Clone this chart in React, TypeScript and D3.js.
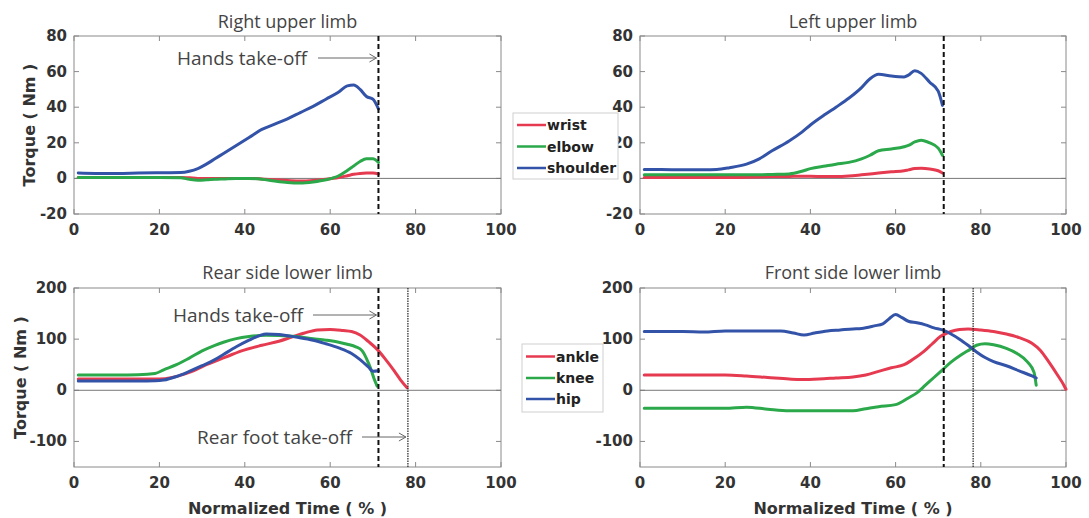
import React from "react";
import * as d3 from "d3";

// ---------- DATA ----------
const xTicks = [0, 20, 40, 60, 80, 100];
const upperYTicks = [-20, 0, 20, 40, 60, 80];
const lowerYTicks = [-100, 0, 100, 200];

const handsTakeOff = 71.3;
const rearFootTakeOff = 78.2;

// Right upper limb
const rulX = [1, 5, 10, 15, 20, 25, 27, 29, 31, 33, 35, 38, 41, 44, 47, 50, 53, 56, 59, 62, 64, 65.5, 67, 68.5, 70, 71.3];
const rulWrist = [0.5, 0.5, 0.5, 0.5, 0.5, 0.5, 0.3, 0, 0, 0, 0, 0, 0, -0.3, -0.8, -1.2, -1.5, -1.2, -0.5, 0.5, 1.5, 2.3, 2.8, 3, 3, 2.5];
const rulElbow = [0.5, 0.5, 0.5, 0.5, 0.5, 0.3, -0.5, -1, -0.8, -0.5, -0.3, 0, 0, -0.5, -1.5, -2.3, -2.6, -2, -0.8, 1.5, 4.5, 7, 9.5, 11, 11, 9];
const rulShoulder = [3, 2.8, 2.8, 3, 3.2, 3.3, 4, 5.5, 8, 11, 14, 18.5, 23, 27.5, 30.5, 33.5, 37, 40.5, 44.5, 48.5, 52, 52.5, 50, 46, 44.5, 39];

// Left upper limb
const lulX = [1, 5, 10, 15, 18, 21, 25, 28, 31, 35, 38, 40, 43.5, 46, 49, 52, 54, 56, 59, 62, 63, 64.5, 66, 68, 70, 71];
const lulWrist = [0.5, 0.5, 0.5, 0.5, 0.5, 0.5, 0.6, 0.8, 1, 1.1, 1.2, 1.2, 1, 1, 1.3, 2, 2.5, 3, 3.7, 4.3, 4.8, 5.5, 5.7, 5.3, 4.3, 3];
const lulElbow = [2, 2, 2, 2, 2, 2, 2, 2, 2.2, 2.5, 4, 5.5, 7, 8, 9, 11, 13, 15.5, 16.5, 17.8, 18.5, 20.5, 21.5, 20, 17, 13];
const lulShoulder = [5, 5, 4.8, 4.8, 5, 6, 8, 11, 15.5, 21, 26, 30, 36, 40, 45, 51, 56, 58.5, 57.5, 57, 58, 60.5, 59, 54, 49, 41];

// Rear side lower limb
const rslAnkleX = [1, 5, 10, 15, 20, 23, 26, 28.5, 31, 34, 37, 40, 44, 48, 51, 54, 57, 60, 63, 65, 67, 69, 71, 73, 75, 76.5, 78];
const rslAnkle = [22, 22, 22, 22, 22, 25, 32, 40, 50, 60, 70, 79, 88, 96, 104, 112, 118, 119, 117, 115, 108, 95, 80, 60, 38, 20, 5];
const rslKneeX = [1, 5, 10, 15, 19, 21, 24, 27, 30, 33, 35, 38, 41, 43.5, 45, 48, 52, 56, 59, 62, 64, 66, 67.5, 68.5, 69.5, 70.3, 71];
const rslKnee = [30, 30, 30, 30.5, 33, 40, 50, 63, 77, 88, 94, 101, 105, 107, 107.5, 107, 105, 101, 98, 94, 90, 85, 77, 62, 42, 22, 8];
const rslHipX = [1, 5, 10, 15, 19, 21, 24, 27, 30, 33, 35, 38, 41, 43.5, 45, 48, 52, 56, 59, 62, 65, 67, 69, 70, 71.3];
const rslHip = [18, 18, 18, 18, 18.5, 20, 27, 37, 48, 60, 70, 85, 98, 107, 110, 109, 104, 98, 91, 83, 72, 60, 45, 37, 38];

// Front side lower limb
const fslAnkleX = [1, 5, 10, 15, 20, 25, 30, 35, 38, 42, 46, 50, 53, 56, 59, 62, 64, 66.5, 68.5, 70.5, 73, 75, 77, 80, 83, 86, 89, 92, 94, 96, 98, 99.5, 100];
const fslAnkle = [30, 30, 30, 30, 30, 28, 25, 22, 21, 22, 24, 26, 30, 37, 44, 50, 60, 75, 90, 105, 115, 119, 120, 118, 115, 110, 103, 92, 78, 55, 30, 10, 2];
const fslKneeX = [1, 5, 10, 15, 20, 25, 30, 35, 40, 45, 50, 53, 56, 60, 63, 65, 67, 69, 71, 73, 75.5, 77.5, 79, 81, 83, 86, 88.5, 91, 92.5, 93];
const fslKnee = [-35, -35, -35, -35, -35, -33, -37, -40, -40, -40, -40, -36, -32, -28, -15, -5, 10, 25, 40, 55, 70, 80, 88, 91, 89, 82, 72, 55, 35, 10];
const fslHipX = [1, 5, 10, 15, 20, 25, 30, 33, 36, 38.5, 41, 44, 47, 50, 52, 55, 57, 58.5, 60, 61.5, 63, 65, 67, 69, 71, 73, 75, 77, 79, 81, 83, 86, 89, 92, 93];
const fslHip = [115, 115, 115, 114, 116, 116, 116, 116, 112, 108, 112, 116, 118, 120, 121, 126, 130, 140, 148, 142, 135, 132, 128, 122, 118, 110, 100, 88, 75, 64, 56, 48, 38, 28, 24];

const upperLegend = ["wrist", "elbow", "shoulder"];
const lowerLegend = ["ankle", "knee", "hip"];

// ---------- STYLE ----------
const RED = "#e63a50";
const GREEN = "#2aa84a";
const BLUE = "#3353a8";
const seriesColors = [RED, GREEN, BLUE];
const TICK_FONT = "'DejaVu Sans', sans-serif";
const TITLE_FONT = "'Open Sans', sans-serif";
const AXIS_GREY = "#8a8a8a";

type Series = { xs: number[]; ys: number[]; color: string };

type PanelProps = {
  left: number;
  right: number;
  top: number;
  bottom: number;
  yDomain: [number, number];
  yTicks: number[];
  title: string;
  titleY: number;
  series: Series[];
  showDotted: boolean;
  yLabelX: number | null;
  xLabel: boolean;
  annotations: { text: string; y: number; textX: number; arrowFrom: number; tipAt: number }[];
};

function Panel(p: PanelProps) {
  const x = d3.scaleLinear().domain([0, 100]).range([p.left, p.right]);
  const y = d3.scaleLinear().domain(p.yDomain).range([p.bottom, p.top]);
  const line = d3
    .line<[number, number]>()
    .x((d) => x(d[0]))
    .y((d) => y(d[1]))
    .curve(d3.curveMonotoneX);
  const tl = 5;
  return (
    <g>
      <rect x={p.left} y={p.top} width={p.right - p.left} height={p.bottom - p.top} fill="white" stroke={AXIS_GREY} strokeWidth={1} />
      {xTicks.map((t) => (
        <g key={"xt" + t}>
          <line x1={x(t)} x2={x(t)} y1={p.bottom} y2={p.bottom - tl} stroke={AXIS_GREY} />
          <line x1={x(t)} x2={x(t)} y1={p.top} y2={p.top + tl} stroke={AXIS_GREY} />
          <text x={x(t)} y={p.bottom + 16} textAnchor="middle" dominantBaseline="central" fontFamily={TICK_FONT} fontWeight="bold" fontSize={15} fill="#333">
            {t}
          </text>
        </g>
      ))}
      {p.yTicks.map((t) => (
        <g key={"yt" + t}>
          <line x1={p.left} x2={p.left + tl} y1={y(t)} y2={y(t)} stroke={AXIS_GREY} />
          <line x1={p.right} x2={p.right - tl} y1={y(t)} y2={y(t)} stroke={AXIS_GREY} />
          <text x={p.left - 7} y={y(t)} textAnchor="end" dominantBaseline="central" fontFamily={TICK_FONT} fontWeight="bold" fontSize={15} fill="#333">
            {t}
          </text>
        </g>
      ))}
      <line x1={p.left} x2={p.right} y1={y(0)} y2={y(0)} stroke="#777" strokeWidth={1} />
      {p.series.map((s, i) => (
        <path key={i} d={line(s.xs.map((v, j) => [v, s.ys[j]] as [number, number])) || ""} fill="none" stroke={s.color} strokeWidth={3} strokeLinejoin="round" strokeLinecap="round" />
      ))}
      <line x1={x(handsTakeOff)} x2={x(handsTakeOff)} y1={p.top} y2={p.bottom} stroke="#111" strokeWidth={2} strokeDasharray="5,3" />
      {p.showDotted && (
        <line x1={x(rearFootTakeOff)} x2={x(rearFootTakeOff)} y1={p.top} y2={p.bottom} stroke="#222" strokeWidth={1.2} strokeDasharray="1.5,1" />
      )}
      {p.annotations.map((a, i) => (
        <g key={"an" + i}>
          <text x={a.textX} y={a.y} dominantBaseline="central" fontFamily={TITLE_FONT} fontSize={19} fill="#444">
            {a.text}
          </text>
          <line x1={a.arrowFrom} x2={x(a.tipAt) - 2} y1={a.y} y2={a.y} stroke="#666" strokeWidth={1} />
          <path d={`M${x(a.tipAt) - 9},${a.y - 4} L${x(a.tipAt) - 2},${a.y} L${x(a.tipAt) - 9},${a.y + 4}`} fill="none" stroke="#666" strokeWidth={1} />
        </g>
      ))}
      <text x={(p.left + p.right) / 2} y={p.titleY} textAnchor="middle" fontFamily={TITLE_FONT} fontSize={18} fill="#444">
        {p.title}
      </text>
      {p.yLabelX !== null && (
        <text transform={`translate(${p.yLabelX},${(p.top + p.bottom) / 2}) rotate(-90)`} textAnchor="middle" dominantBaseline="central" fontFamily={TICK_FONT} fontWeight="bold" fontSize={16} fill="#333">
          Torque ( Nm )
        </text>
      )}
      {p.xLabel && (
        <text x={(p.left + p.right) / 2} y={508} textAnchor="middle" dominantBaseline="central" fontFamily={TICK_FONT} fontWeight="bold" fontSize={16} fill="#333">
          Normalized Time ( % )
        </text>
      )}
    </g>
  );
}

function Legend({ x0, y0, w, h, rowY, labels }: { x0: number; y0: number; w: number; h: number; rowY: number[]; labels: string[] }) {
  return (
    <g>
      <rect x={x0} y={y0} width={w} height={h} fill="white" stroke="#cfcfcf" strokeWidth={1} />
      {labels.map((l, i) => (
        <g key={l}>
          <line x1={x0 + 4} x2={x0 + 33} y1={rowY[i]} y2={rowY[i]} stroke={seriesColors[i]} strokeWidth={2.5} />
          <text x={x0 + 34} y={rowY[i]} dominantBaseline="central" fontFamily={TICK_FONT} fontWeight="bold" fontSize={14} fill="#222">
            {l}
          </text>
        </g>
      ))}
    </g>
  );
}

export default function App() {
  const upperDomain: [number, number] = [-20, 80];
  const lowerDomain: [number, number] = [-150, 200];
  return (
    <svg width={1089} height={518} style={{ position: "absolute", left: 0, top: 0, background: "white" }}>
      <rect width={1089} height={518} fill="white" />
      <Panel
        left={74} right={501} top={36} bottom={214}
        yDomain={upperDomain} yTicks={upperYTicks}
        title="Right upper limb" titleY={28}
        series={[
          { xs: rulX, ys: rulWrist, color: RED },
          { xs: rulX, ys: rulElbow, color: GREEN },
          { xs: rulX, ys: rulShoulder, color: BLUE },
        ]}
        showDotted={false} yLabelX={29} xLabel={false}
        annotations={[{ text: "Hands take-off", y: 58, textX: 177, arrowFrom: 318, tipAt: handsTakeOff }]}
      />
      <Panel
        left={640} right={1066} top={36} bottom={214}
        yDomain={upperDomain} yTicks={upperYTicks}
        title="Left upper limb" titleY={28}
        series={[
          { xs: lulX, ys: lulWrist, color: RED },
          { xs: lulX, ys: lulElbow, color: GREEN },
          { xs: lulX, ys: lulShoulder, color: BLUE },
        ]}
        showDotted={false} yLabelX={null} xLabel={false}
        annotations={[]}
      />
      <Panel
        left={74} right={501} top={288} bottom={467}
        yDomain={lowerDomain} yTicks={lowerYTicks}
        title="Rear side lower limb" titleY={279}
        series={[
          { xs: rslAnkleX, ys: rslAnkle, color: RED },
          { xs: rslKneeX, ys: rslKnee, color: GREEN },
          { xs: rslHipX, ys: rslHip, color: BLUE },
        ]}
        showDotted={true} yLabelX={20} xLabel={true}
        annotations={[
          { text: "Hands take-off", y: 315, textX: 173, arrowFrom: 313, tipAt: handsTakeOff },
          { text: "Rear foot take-off", y: 437, textX: 197, arrowFrom: 362, tipAt: rearFootTakeOff },
        ]}
      />
      <Panel
        left={640} right={1066} top={288} bottom={467}
        yDomain={lowerDomain} yTicks={lowerYTicks}
        title="Front side lower limb" titleY={279}
        series={[
          { xs: fslAnkleX, ys: fslAnkle, color: RED },
          { xs: fslKneeX, ys: fslKnee, color: GREEN },
          { xs: fslHipX, ys: fslHip, color: BLUE },
        ]}
        showDotted={true} yLabelX={null} xLabel={true}
        annotations={[]}
      />
      <Legend x0={513} y0={113} w={105} h={66} rowY={[125, 146.5, 168]} labels={upperLegend} />
      <Legend x0={522} y0={344} w={81} h={68} rowY={[356.5, 378, 399]} labels={lowerLegend} />
    </svg>
  );
}
